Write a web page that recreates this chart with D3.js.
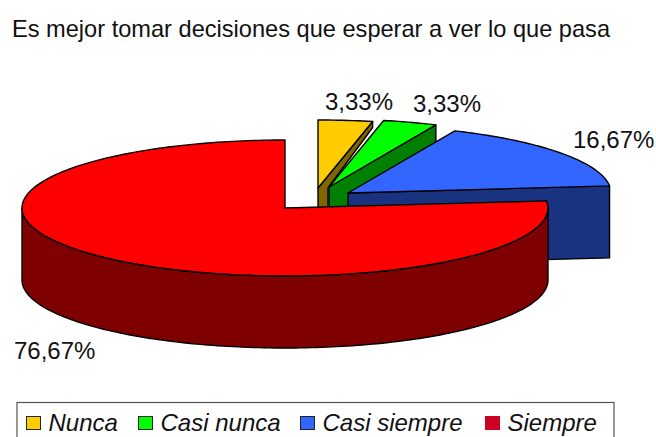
<!DOCTYPE html>
<html>
<head>
<meta charset="utf-8">
<script src="https://cdn.jsdelivr.net/npm/d3@7"></script>
<style>
  html, body { margin: 0; padding: 0; background: #fff; }
  svg { display: block; }
  text { font-family: "Liberation Sans", Arial, sans-serif; fill: #111; }
</style>
</head>
<body>
<div id="chart"></div>
<script>
// Values
const categories = ["Nunca", "Casi nunca", "Casi siempre", "Siempre"];
const values = [3.33, 3.33, 16.67, 76.67];
const topColors = ["#ffcc00", "#00ff00", "#3366ff", "#ff0000"];
const sideColors = ["#7f6600", "#007f00", "#193380", "#7f0000"];
const swatchColors = ["#ffcc00", "#00ff00", "#3366ff", "#cc0020"];
const title = "Es mejor tomar decisiones que esperar a ver lo que pasa";

const width = 656;
const height = 437;
const cx = 285;
const cy = 208;
const rx = 263;
const ry = 68;
const depth = 72;

// how far each slice is pulled out of the pie, and where its label sits
const explode = [[33, -20], [44, -21], [63, -15], [0, 0]];
const labelAt = [[325, 110], [413, 112], [573, 148], [14, 359]];
// the yellow slice wall is only partly visible in the original
const wallCut = [{h: 6, w: 10}, null, null, null];

const svg = d3.select("#chart")
  .append("svg")
    .attr("width", width)
    .attr("height", height)
    .attr("viewBox", `0 0 ${width} ${height}`);

svg.append("text")
    .text(title)
    .attr("x", 12)
    .attr("y", 37)
    .style("font-size", "23.6px");

const xScale = d3.scaleLinear().domain([-1, 1]).range([cx - rx, cx + rx]);
const yScale = d3.scaleLinear().domain([-1, 1]).range([cy + ry, cy - ry]);

const pie = d3.pie().sort(null).value(d => d);
const slices = pie(values);

const rimPoint = (angle, dx, dy) => [
  xScale(Math.sin(angle)) + dx,
  yScale(Math.cos(angle)) + dy
];

const rimPoints = (a0, a1, dx, dy) => {
  const n = Math.max(2, Math.ceil((a1 - a0) / 0.02));
  return d3.range(n + 1).map(i => rimPoint(a0 + (a1 - a0) * i / n, dx, dy));
};

const line = d3.line();
const closed = pts => line(pts) + "Z";

slices.forEach((s, i) => {
  const [dx, dy] = explode[i];
  const apex = [cx + dx, cy + dy];
  const outline = "#000";

  // wall at the closing edge of the slice, for slices that show one
  if (s.endAngle < Math.PI * 1.5) {
    const rim = rimPoint(s.endAngle, dx, dy);
    const cut = wallCut[i];
    const wall = cut
      ? [apex, rim, [rim[0], rim[1] + cut.h], [apex[0] + cut.w, apex[1]],
         [apex[0] + cut.w, apex[1] + depth], [apex[0], apex[1] + depth]]
      : [apex, rim, [rim[0], rim[1] + depth], [apex[0], apex[1] + depth]];
    svg.append("path")
        .attr("d", closed(wall))
        .attr("fill", sideColors[i])
        .attr("stroke", outline)
        .attr("stroke-width", 1.4)
        .attr("stroke-linejoin", "round");
  }

  // outer curved side, only the front half of the ellipse is seen
  const a0 = Math.max(s.startAngle, Math.PI / 2);
  const a1 = Math.min(s.endAngle, Math.PI * 1.5);
  if (a1 > a0) {
    const upper = rimPoints(a0, a1, dx, dy);
    const lower = rimPoints(a0, a1, dx, dy + depth).reverse();
    svg.append("path")
        .attr("d", closed(upper.concat(lower)))
        .attr("fill", sideColors[i])
        .attr("stroke", outline)
        .attr("stroke-width", 1.4)
        .attr("stroke-linejoin", "round");
  }

  // top face
  const top = [apex].concat(rimPoints(s.startAngle, s.endAngle, dx, dy));
  svg.append("path")
      .attr("d", closed(top))
      .attr("fill", topColors[i])
      .attr("stroke", outline)
      .attr("stroke-width", 1.4)
      .attr("stroke-linejoin", "round");
});

svg.selectAll(".pct")
  .data(values)
  .join("text")
    .attr("class", "pct")
    .text(d => d.toFixed(2).replace(".", ",") + "%")
    .attr("x", (d, i) => labelAt[i][0])
    .attr("y", (d, i) => labelAt[i][1])
    .style("font-size", "24px");

// legend box runs off the bottom of the picture
svg.append("rect")
    .attr("x", 17)
    .attr("y", 402.5)
    .attr("width", 597)
    .attr("height", 50)
    .attr("fill", "#fff")
    .attr("stroke", "#555")
    .attr("stroke-width", 1.2);

const legendX = [26, 138, 300, 485];
const legendItem = svg.selectAll(".legend-item")
  .data(categories)
  .join("g")
    .attr("class", "legend-item")
    .attr("transform", (d, i) => `translate(${legendX[i]}, 416)`);

legendItem.append("rect")
    .attr("x", 0.5)
    .attr("y", 0.5)
    .attr("width", 14)
    .attr("height", 13)
    .attr("fill", (d, i) => swatchColors[i])
    .attr("stroke", (d, i) => i === 3 ? swatchColors[i] : "#222")
    .attr("stroke-width", 1);

legendItem.append("text")
    .text(d => d)
    .attr("x", 22.5)
    .attr("y", 15)
    .style("font-size", "24px")
    .style("font-style", "italic");
</script>
</body>
</html>
